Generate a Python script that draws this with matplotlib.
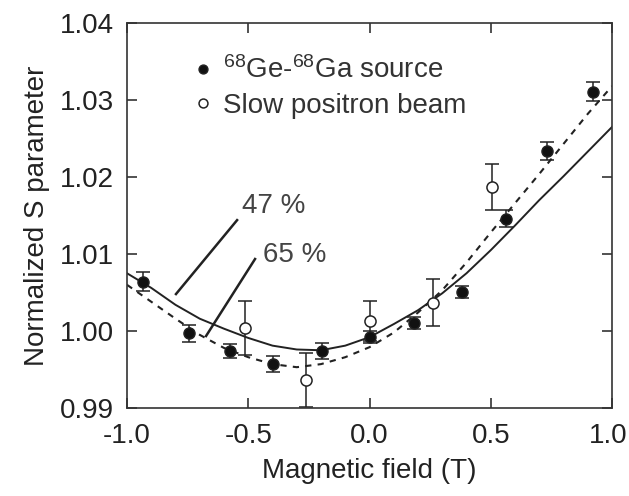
import matplotlib
matplotlib.use("Agg")
import matplotlib.pyplot as plt
import matplotlib.transforms as mtransforms

plt.rcParams['font.family'] = ['Liberation Sans', 'DejaVu Sans']
plt.rcParams['mathtext.default'] = 'regular'
plt.rcParams['axes.unicode_minus'] = False

# 68Ge-68Ga source (filled)
src_x = [-0.934, -0.743, -0.575, -0.397, -0.197, 0.0, 0.185, 0.383, 0.561, 0.730, 0.920]
src_y = [1.0064, 0.9997, 0.9974, 0.9957, 0.9974, 0.9992, 1.0010, 1.0051, 1.0146, 1.0234, 1.0311]
src_err = [0.0012, 0.0011, 0.0009, 0.0010, 0.0010, 0.0008, 0.0008, 0.0008, 0.0011, 0.0012, 0.0012]

# slow positron beam (open)
beam_x = [-0.513, -0.262, 0.0, 0.261, 0.507]
beam_y = [1.0004, 0.9936, 1.0013, 1.0037, 1.0187]
beam_err = [0.0035, 0.0035, 0.0026, 0.0030, 0.0030]

# fitted curves
fit_x = [-1.0, -0.9, -0.8, -0.7, -0.6, -0.5, -0.4, -0.3, -0.2, -0.1, 0.0,
         0.1, 0.2, 0.3, 0.4, 0.5, 0.6, 0.7, 0.8, 0.9, 1.0]
fit47_y = [1.0075, 1.0056, 1.0034, 1.0016, 1.0003, 0.9991, 0.9981, 0.9976, 0.9975, 0.9981, 0.9992,
           1.0009, 1.0027, 1.0049, 1.0075, 1.0105, 1.0137, 1.0170, 1.0201, 1.0233, 1.0265]
fit65_y = [1.0060, 1.0038, 1.0016, 0.9995, 0.9978, 0.9966, 0.9957, 0.9953, 0.9957, 0.9966, 0.9979,
           0.9998, 1.0024, 1.0053, 1.0089, 1.0128, 1.0166, 1.0204, 1.0243, 1.0282, 1.0318]

ink = '#222222'

fig = plt.figure(figsize=(6.29, 4.96), dpi=100)
ax = fig.add_axes([0.2019, 0.1774, 0.7711, 0.7762])

ax.plot(fit_x, fit47_y, color=ink, lw=1.4)
ax.plot(fit_x, fit65_y, color=ink, lw=1.5, ls=(0, (3, 3)))

ax.errorbar(src_x, src_y, yerr=src_err, fmt='none', ecolor=ink, elinewidth=1.1, capsize=5, capthick=1.1)
ax.errorbar(beam_x, beam_y, yerr=beam_err, fmt='none', ecolor=ink, elinewidth=1.1, capsize=5, capthick=1.1)
ax.plot(src_x, src_y, 'o', color='#111111', ms=8, mec=ink, label='$^{68}$Ge-$^{68}$Ga source')
ax.plot(beam_x, beam_y, 'o', mfc='white', mec=ink, mew=1.1, ms=8, label='Slow positron beam')

# annotation lines
ax.plot([-0.798, -0.546], [1.0048, 1.0144], color=ink, lw=1.8)
ax.plot([-0.674, -0.472], [0.99935, 1.00935], color=ink, lw=1.8)
ax.text(-0.525, 1.0163, '47 %', fontsize=20, color='#444444', va='center', ha='left')
ax.text(-0.440, 1.0099, '65 %', fontsize=20, color='#444444', va='center', ha='left')

leg = ax.legend(loc='upper left', bbox_to_anchor=(0.12, 0.942), frameon=False, fontsize=20,
                handlelength=0.5, handletextpad=0.45, labelspacing=0.3, borderaxespad=0,
                markerscale=0.8)
for t in leg.get_texts():
    t.set_color('#333333')

ax.set_xlim(-1.0, 1.0)
ax.set_ylim(0.99, 1.04)
ax.set_xticks([-1.0, -0.5, 0.0, 0.5, 1.0])
ax.set_xticklabels(['-1.0', '-0.5', '0.0', '0.5', '1.0'])
ax.set_yticks([0.99, 1.00, 1.01, 1.02, 1.03, 1.04])
ax.set_yticklabels(['0.99', '1.00', '1.01', '1.02', '1.03', '1.04'])
ax.tick_params(direction='in', length=7, width=1.1, colors=ink, labelsize=20,
               top=True, right=True)
ax.tick_params(axis='x', pad=10.5)
ax.tick_params(axis='y', pad=9.5)
for s in ax.spines.values():
    s.set_color('#333333')
    s.set_linewidth(1.2)

# keep the last x label inside the picture
last = ax.get_xticklabels()[-1]
last.set_transform(last.get_transform() + mtransforms.ScaledTranslation(-3 / 72, 0, fig.dpi_scale_trans))

ax.set_xlabel('Magnetic field (T)', fontsize=20, color=ink, labelpad=7)
ax.set_ylabel('Normalized S parameter', fontsize=20, color=ink, labelpad=7)

fig.savefig('out.png', dpi=100)
